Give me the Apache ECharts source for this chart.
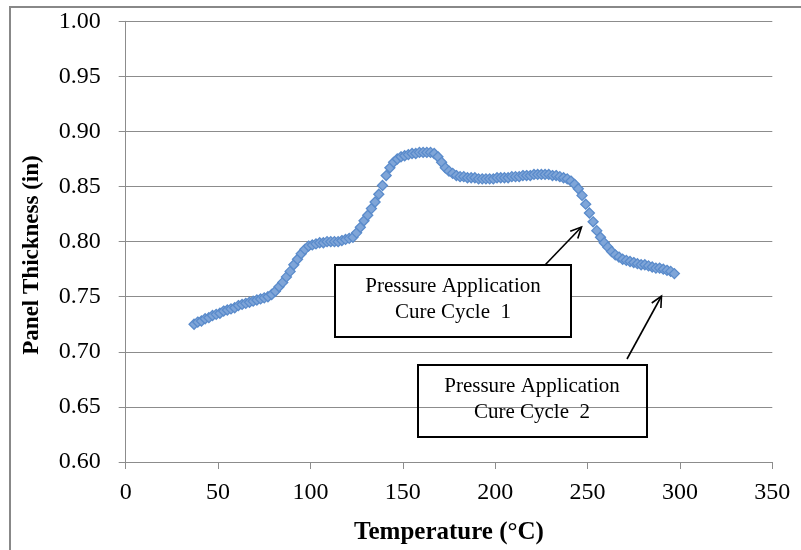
<!DOCTYPE html>
<html>
<head>
<meta charset="utf-8">
<title>Panel Thickness vs Temperature</title>
<script src="https://cdn.jsdelivr.net/npm/echarts@6/dist/echarts.min.js"></script>
<style>
  html, body { margin: 0; padding: 0; background: #ffffff; }
  #chart { width: 801px; height: 550px; }
</style>
</head>
<body>
<div id="chart"></div>
<script>
// Temperature readings (°C)
var temperature = [
  37, 39, 41, 43, 45, 47, 49, 51, 53, 55, 57, 59, 61, 63, 65, 67, 69, 71, 73, 75,
  77, 79, 81, 83, 85, 87, 89, 91, 93, 95, 97, 99, 101, 103, 105, 107, 109, 111, 113, 115,
  117, 119, 121, 123, 125, 127, 129, 131, 133, 135, 137, 139, 141, 143, 145, 147, 149, 151, 153, 155,
  157, 159, 161, 163, 165, 167, 169, 171, 173, 175, 177, 179, 181, 183, 185, 187, 189, 191, 193, 195,
  197, 199, 201, 203, 205, 207, 209, 211, 213, 215, 217, 219, 221, 223, 225, 227, 229, 231, 233, 235,
  237, 239, 241, 243, 245, 247, 249, 251, 253, 255, 257, 259, 261, 263, 265, 267, 269, 271, 273, 275,
  277, 279, 281, 283, 285, 287, 289, 291, 293, 295, 297
];

// Panel thickness (in) at each temperature reading
var thickness = [
  0.725, 0.727, 0.728, 0.730, 0.731, 0.733, 0.734, 0.735, 0.737, 0.738, 0.739, 0.740, 0.742, 0.743, 0.744, 0.745, 0.746, 0.747, 0.748, 0.749,
  0.750, 0.752, 0.755, 0.759, 0.763, 0.768, 0.773, 0.779, 0.784, 0.789, 0.793, 0.796, 0.797, 0.798, 0.799, 0.799, 0.800, 0.800, 0.800, 0.800,
  0.801, 0.802, 0.803, 0.804, 0.808, 0.813, 0.819, 0.824, 0.830, 0.836, 0.843, 0.851, 0.860, 0.867, 0.872, 0.875, 0.877, 0.878, 0.879, 0.880,
  0.880, 0.881, 0.881, 0.881, 0.881, 0.880, 0.877, 0.872, 0.867, 0.864, 0.862, 0.860, 0.859, 0.859, 0.858, 0.858, 0.858, 0.857, 0.857, 0.857,
  0.857, 0.857, 0.858, 0.858, 0.858, 0.858, 0.859, 0.859, 0.859, 0.860, 0.860, 0.860, 0.861, 0.861, 0.861, 0.861, 0.861, 0.860, 0.860, 0.859,
  0.858, 0.857, 0.855, 0.852, 0.848, 0.842, 0.834, 0.826, 0.818, 0.810, 0.804, 0.799, 0.795, 0.791, 0.788, 0.786, 0.784, 0.783, 0.782, 0.781,
  0.780, 0.779, 0.779, 0.778, 0.777, 0.776, 0.776, 0.775, 0.774, 0.773, 0.771
];

// Axis settings
var xMin = 0, xMax = 350, xStep = 50;
var yMin = 0.60, yMax = 1.00, yStep = 0.05;

var xTitle = 'Temperature (°C)';
var yTitle = 'Panel Thickness (in)';
var note1 = ['Pressure Application', 'Cure Cycle  1'];
var note2 = ['Pressure Application', 'Cure Cycle  2'];

var points = temperature.map(function (t, i) { return [t, thickness[i]]; });

var serif = '"Liberation Serif", "Times New Roman", serif';
var gridGray = '#8c8c8c';

var chart = echarts.init(document.getElementById('chart'), null, { renderer: 'canvas' });

// Open arrowhead drawn as a polyline at the tip
function arrowHead(tipX, tipY, fromX, fromY, len) {
  var ang = Math.atan2(tipY - fromY, tipX - fromX);
  var spread = Math.PI / 7;
  return {
    type: 'polyline',
    shape: {
      points: [
        [tipX - len * Math.cos(ang - spread), tipY - len * Math.sin(ang - spread)],
        [tipX, tipY],
        [tipX - len * Math.cos(ang + spread), tipY - len * Math.sin(ang + spread)]
      ]
    },
    style: { stroke: '#000', lineWidth: 1.6, fill: null },
    z: 20
  };
}

var option = {
  backgroundColor: '#ffffff',
  animation: false,
  grid: { left: 125.7, right: 28.7, top: 21.3, bottom: 84, containLabel: false },
  xAxis: {
    type: 'value',
    min: xMin, max: xMax, interval: xStep,
    name: xTitle,
    nameLocation: 'middle',
    nameGap: 58,
    nameTextStyle: { fontFamily: serif, fontSize: 25, fontWeight: 'bold', color: '#000' },
    axisLine: { show: true, onZero: false, lineStyle: { color: gridGray, width: 1 } },
    axisTick: { show: true, length: 7, lineStyle: { color: gridGray } },
    axisLabel: { margin: 19, fontFamily: serif, fontSize: 24, color: '#000' },
    splitLine: { show: false }
  },
  yAxis: {
    type: 'value',
    min: yMin, max: yMax, interval: yStep,
    axisLine: { show: true, lineStyle: { color: gridGray, width: 1 } },
    axisTick: { show: true, length: 7, lineStyle: { color: gridGray } },
    axisLabel: {
      margin: 25, fontFamily: serif, fontSize: 24, color: '#000',
      formatter: function (v) { return v.toFixed(2); }
    },
    splitLine: { show: true, lineStyle: { color: gridGray, width: 1 } }
  },
  series: [{
    type: 'scatter',
    data: points,
    symbol: 'diamond',
    symbolSize: 10,
    itemStyle: { color: '#7FA5D8', borderColor: '#5A8BCB', borderWidth: 1.3, opacity: 1 },
    z: 5
  }],
  graphic: [
    // outer chart frame
    {
      type: 'rect',
      shape: { x: 10, y: 7, width: 820, height: 600 },
      style: { fill: null, stroke: '#888888', lineWidth: 2 },
      silent: true, z: 1
    },
    // vertical axis title
    {
      type: 'text',
      x: 32, y: 255,
      rotation: Math.PI / 2,
      style: {
        text: yTitle, fontFamily: serif, fontSize: 23, fontWeight: 'bold',
        fill: '#000', align: 'center', verticalAlign: 'middle'
      },
      z: 10
    },
    // first note box (filled white)
    {
      type: 'rect',
      shape: { x: 335, y: 265, width: 236, height: 72 },
      style: { fill: '#ffffff', stroke: '#000', lineWidth: 2 },
      z: 15
    },
    {
      type: 'text',
      x: 453, y: 299,
      style: {
        text: note1.join('\n'), fontFamily: serif, fontSize: 21, lineHeight: 26,
        fill: '#000', align: 'center', verticalAlign: 'middle'
      },
      z: 16
    },
    // second note box (no fill)
    {
      type: 'rect',
      shape: { x: 418, y: 365, width: 229, height: 72 },
      style: { fill: null, stroke: '#000', lineWidth: 2 },
      z: 15
    },
    {
      type: 'text',
      x: 532, y: 399,
      style: {
        text: note2.join('\n'), fontFamily: serif, fontSize: 21, lineHeight: 26,
        fill: '#000', align: 'center', verticalAlign: 'middle'
      },
      z: 16
    },
    // arrows from the note boxes to the curve
    {
      type: 'line',
      shape: { x1: 545, y1: 265, x2: 581.5, y2: 227 },
      style: { stroke: '#000', lineWidth: 1.6 },
      z: 20
    },
    arrowHead(581.5, 227, 545, 265, 12),
    {
      type: 'line',
      shape: { x1: 627, y1: 359, x2: 661.5, y2: 296 },
      style: { stroke: '#000', lineWidth: 1.6 },
      z: 20
    },
    arrowHead(661.5, 296, 627, 359, 12)
  ]
};

chart.setOption(option);
</script>
</body>
</html>
